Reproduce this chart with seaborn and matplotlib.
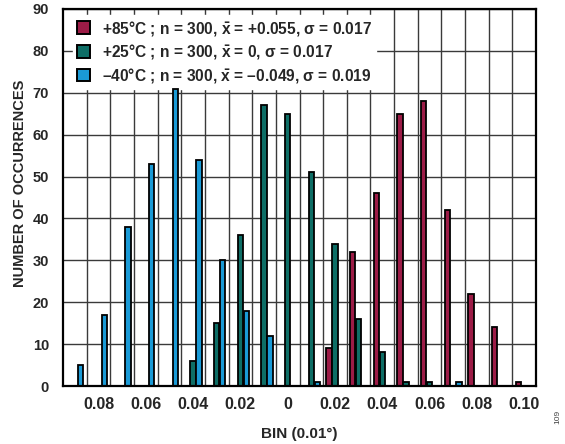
import matplotlib
matplotlib.use("Agg")
import matplotlib.pyplot as plt
import numpy as np
import pandas as pd
import seaborn as sns

# bins in units of 0.01 deg, -0.09 .. +0.10
bins = [-0.09, -0.08, -0.07, -0.06, -0.05, -0.04, -0.03, -0.02, -0.01, 0.0,
        0.01, 0.02, 0.03, 0.04, 0.05, 0.06, 0.07, 0.08, 0.09, 0.10]
counts_85 = [0, 0, 0, 0, 0, 0, 0, 0, 0, 0,
             0, 9, 32, 46, 65, 68, 42, 22, 14, 1]
counts_25 = [0, 0, 0, 0, 0, 6, 15, 36, 67, 65,
             51, 34, 16, 8, 1, 1, 0, 0, 0, 0]
counts_m40 = [5, 17, 38, 53, 71, 54, 30, 18, 12, 0,
              1, 0, 0, 0, 0, 0, 1, 0, 0, 0]
series_labels = [
    r"+85°C ; n = 300, $\bar{x}$ = +0.055, σ = 0.017",
    r"+25°C ; n = 300, $\bar{x}$ = 0, σ = 0.017",
    "\u201340°C ; n = 300, $\\bar{x}$ = \u20130.049, σ = 0.019",
]
colors = ["#9c1c47", "#0e6e66", "#1a9ad6"]
xtick_labels = ["0.08", "0.06", "0.04", "0.02", "0",
                "0.02", "0.04", "0.06", "0.08", "0.10"]

bin_names = [f"{b:+.2f}" for b in bins]
rows = []
for lab, cnts in zip(series_labels, [counts_85, counts_25, counts_m40]):
    for b, c in zip(bin_names, cnts):
        if c > 0:
            rows.append({"bin": b, "count": c, "temp": lab})
df = pd.DataFrame(rows)

sns.set_theme(style="white")
plt.rcParams["font.family"] = ["Liberation Sans", "DejaVu Sans"]
plt.rcParams["font.weight"] = "bold"
plt.rcParams["mathtext.fontset"] = "custom"
plt.rcParams["mathtext.rm"] = "Liberation Sans:bold"
plt.rcParams["mathtext.it"] = "Liberation Sans:bold"
plt.rcParams["mathtext.bf"] = "Liberation Sans:bold"

fig = plt.figure(figsize=(5.65, 4.44), dpi=100)
ax = fig.add_axes([63 / 565, 1 - 386 / 444, (536 - 63) / 565, (386 - 9) / 444])

sns.barplot(data=df, x="bin", y="count", hue="temp", order=bin_names,
            hue_order=series_labels, palette=colors, width=0.75, gap=0.1,
            edgecolor="black", linewidth=1.3, saturation=1, ax=ax, zorder=3)

ax.set_xlim(-0.5, len(bins) - 0.5)
ax.set_ylim(0, 90)
ax.set_yticks(np.arange(0, 91, 10))
ax.set_xticks(np.arange(1, len(bins), 2))
ax.set_xticklabels(xtick_labels)
ax.set_xticks(np.arange(0.5, len(bins) - 0.5, 1), minor=True)
ax.grid(True, which="minor", axis="x", color="#3a3a3a", linewidth=1.0, zorder=0)
ax.grid(True, which="major", axis="y", color="#3a3a3a", linewidth=1.0, zorder=0)
ax.set_axisbelow(True)
ax.tick_params(axis="both", which="both", length=0)
ax.tick_params(axis="x", labelsize=11.5, pad=8)
ax.tick_params(axis="y", labelsize=10.5, pad=10)
for t in ax.get_xticklabels() + ax.get_yticklabels():
    t.set_fontweight("bold")
for s in ax.spines.values():
    s.set_color("black")
    s.set_linewidth(1.6)
    s.set_zorder(5)

ax.set_xlabel("BIN (0.01°)", fontsize=11, fontweight="bold", labelpad=11)
ax.set_ylabel("NUMBER OF OCCURRENCES", fontsize=10.5, fontweight="bold")
ax.yaxis.set_label_coords(-0.076, 0.537)

handles, labels = ax.get_legend_handles_labels()
leg = ax.legend(handles, labels, loc="upper left", bbox_to_anchor=(0.021, 0.985),
                frameon=True, fancybox=False, framealpha=1, edgecolor="white",
                facecolor="white", handlelength=0.85, handleheight=0.85,
                handletextpad=0.75, labelspacing=0.3, borderpad=0.25,
                borderaxespad=0, prop={"size": 11.2, "weight": "bold"})
for h in leg.legend_handles:
    h.set_edgecolor("black")
    h.set_linewidth(1.4)
# legend box hides the grid but sits under the bars
leg.set_zorder(2.5)

fig.text(0.988, 0.045, "109", rotation=90, fontsize=6, color="#444444",
         fontweight="normal", ha="center", va="bottom")

fig.savefig("out.png", dpi=100)
